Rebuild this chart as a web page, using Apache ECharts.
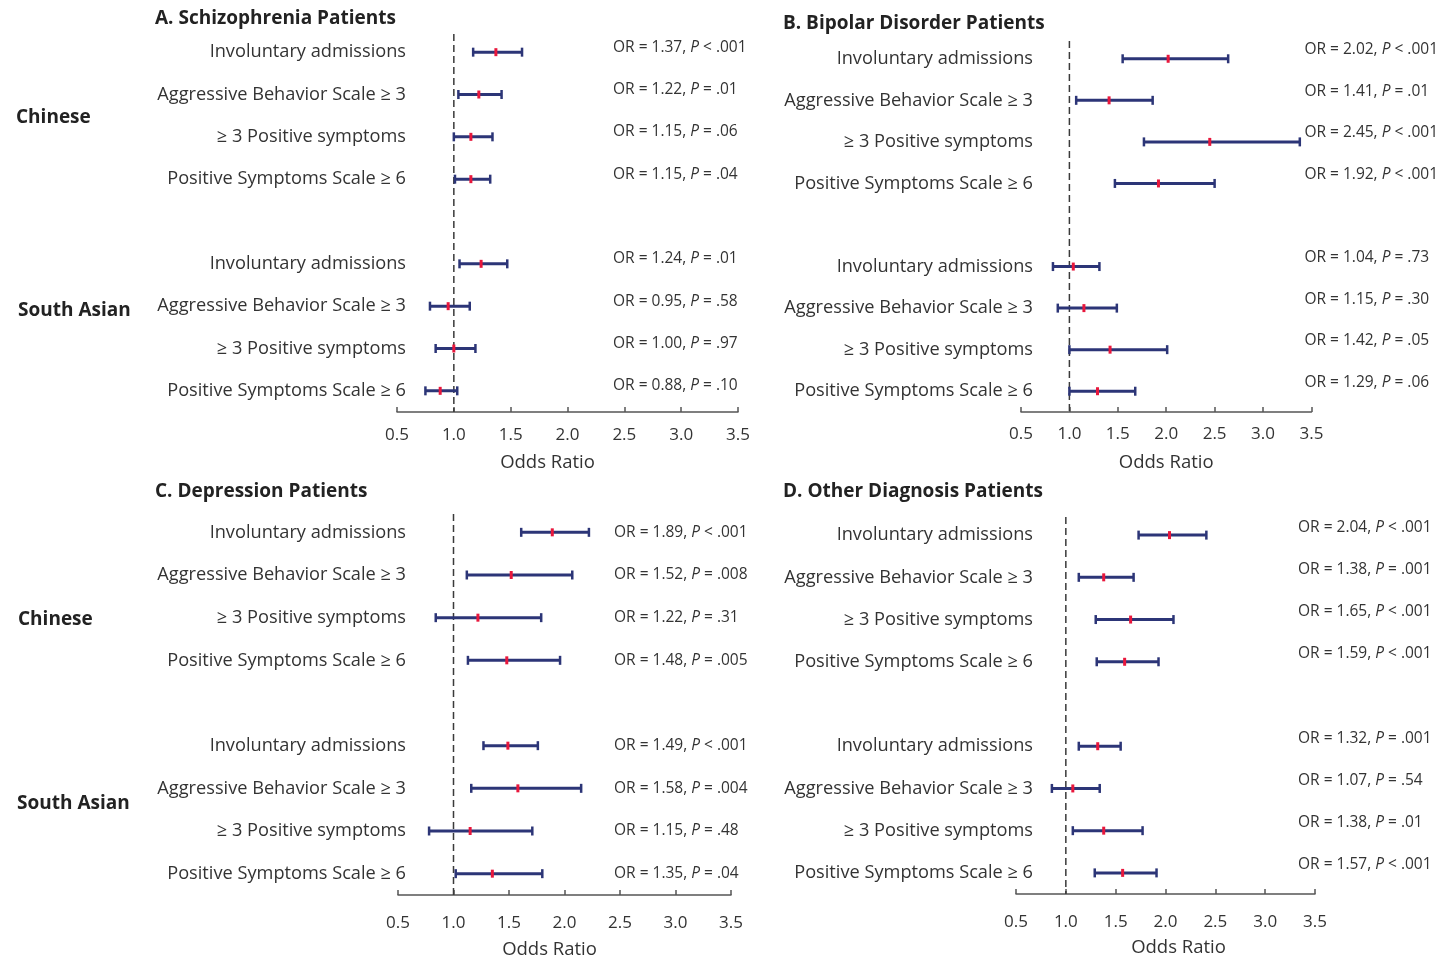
<!DOCTYPE html>
<html>
<head>
<meta charset="utf-8">
<title>Odds ratios by diagnosis</title>
<script src="https://cdn.jsdelivr.net/npm/echarts@6.0.0/dist/echarts.min.js"></script>
<style>
  html, body { margin: 0; padding: 0; background: #fff; }
  #chart { width: 1441px; height: 960px; }
</style>
</head>
<body>
<div id="chart"></div>
<script>
// outcome rows (same 4 rows for Chinese and South Asian)
var rowLabels = ["Involuntary admissions", "Aggressive Behavior Scale \u2265 3", "\u2265 3 Positive symptoms", "Positive Symptoms Scale \u2265 6"];
var groupLabels = ["Chinese", "South Asian"];
var xTicks = [0.5, 1.0, 1.5, 2.0, 2.5, 3.0, 3.5];

// A. Schizophrenia
var aOR = [1.37, 1.22, 1.15, 1.15, 1.24, 0.95, 1.00, 0.88];
var aLo = [1.17, 1.04, 1.00, 1.01, 1.05, 0.79, 0.84, 0.75];
var aHi = [1.60, 1.42, 1.34, 1.32, 1.47, 1.14, 1.19, 1.03];
var aP = ["< .001", "= .01", "= .06", "= .04", "= .01", "= .58", "= .97", "= .10"];

// B. Bipolar disorder
var bOR = [2.02, 1.41, 2.45, 1.92, 1.04, 1.15, 1.42, 1.29];
var bLo = [1.55, 1.07, 1.77, 1.47, 0.83, 0.88, 1.00, 1.00];
var bHi = [2.64, 1.86, 3.38, 2.50, 1.31, 1.49, 2.01, 1.68];
var bP = ["< .001", "= .01", "< .001", "< .001", "= .73", "= .30", "= .05", "= .06"];

// C. Depression
var cOR = [1.89, 1.52, 1.22, 1.48, 1.49, 1.58, 1.15, 1.35];
var cLo = [1.61, 1.12, 0.84, 1.13, 1.27, 1.16, 0.78, 1.02];
var cHi = [2.22, 2.07, 1.79, 1.96, 1.76, 2.15, 1.71, 1.80];
var cP = ["< .001", "= .008", "= .31", "= .005", "< .001", "= .004", "= .48", "= .04"];

// D. Other diagnosis
var dOR = [2.04, 1.38, 1.65, 1.59, 1.32, 1.07, 1.38, 1.57];
var dLo = [1.73, 1.13, 1.30, 1.31, 1.13, 0.86, 1.07, 1.29];
var dHi = [2.41, 1.68, 2.08, 1.93, 1.55, 1.34, 1.77, 1.91];
var dP = ["< .001", "= .001", "< .001", "< .001", "= .001", "= .54", "= .01", "< .001"];

var panelTitles = ["A. Schizophrenia Patients", "B. Bipolar Disorder Patients", "C. Depression Patients", "D. Other Diagnosis Patients"];
var refLine = 1; // OR = 1 reference

var FONT = "'Open Sans', Lato, sans-serif";
var NAVY = "#2c3577";
var RED = "#e8173c";
var TEXT = "#333";

// layout per panel (lm = label margin, ann* = OR text placement, tm/ng = tick margin / name gap, np = name padding)
var panels = [
  { or: aOR, lo: aLo, hi: aHi, p: aP, grid: { left: 397, width: 341, top: 31, height: 381 }, lm: -9, annOff: -125, annUp: 5, tm: 15, ng: 41, np: [0, 40, 0, 0] },
  { or: bOR, lo: bLo, hi: bHi, p: bP, grid: { left: 1021, width: 291, top: 38, height: 374 }, lm: -12, annOff: -7, annUp: 9, tm: 14, ng: 41, np: [0, 0, 0, 0] },
  { or: cOR, lo: cLo, hi: cHi, p: cP, grid: { left: 398, width: 333, top: 511, height: 384 }, lm: -8, annOff: -117, annUp: 0, tm: 20, ng: 45, np: [0, 30, 0, 0] },
  { or: dOR, lo: dLo, hi: dHi, p: dP, grid: { left: 1016, width: 299, top: 514, height: 380 }, lm: -17, annOff: -17, annUp: 8, tm: 20, ng: 44, np: [0, 0, 0, 26] }
];

// 4 rows, a blank gap row, 4 rows
var cats = rowLabels.concat([""], rowLabels);
function rowIndex(i) { return i < 4 ? i : i + 1; }

// CI bar with caps + red OR mark
function renderCI(params, api) {
  var y = api.value(3);
  var lo = api.coord([api.value(0), y]);
  var hi = api.coord([api.value(1), y]);
  var mid = api.coord([api.value(2), y]);
  var cap = 4.5;
  return {
    type: "group",
    children: [
      { type: "line", shape: { x1: lo[0], y1: lo[1], x2: hi[0], y2: hi[1] }, style: { stroke: NAVY, lineWidth: 3 } },
      { type: "line", shape: { x1: lo[0], y1: lo[1] - cap, x2: lo[0], y2: lo[1] + cap }, style: { stroke: NAVY, lineWidth: 2.5 } },
      { type: "line", shape: { x1: hi[0], y1: hi[1] - cap, x2: hi[0], y2: hi[1] + cap }, style: { stroke: NAVY, lineWidth: 2.5 } },
      { type: "rect", shape: { x: mid[0] - 1.5, y: mid[1] - 4, width: 3, height: 8 }, style: { fill: RED } }
    ]
  };
}

// dashed vertical line at OR = 1, full plot height
function renderRef(params, api) {
  var c = api.coord([api.value(0), api.value(1)]);
  var cs = params.coordSys;
  return {
    type: "line",
    shape: { x1: c[0], y1: cs.y + 3, x2: c[0], y2: cs.y + cs.height },
    style: { stroke: "#3a3a3a", lineWidth: 1.5, lineDash: [7, 4] }
  };
}

var grids = [], xAxes = [], yAxes = [], series = [];
panels.forEach(function (pn, k) {
  grids.push(pn.grid);
  xAxes.push({
    type: "value", gridIndex: k, min: 0.5, max: 3.5, interval: 0.5,
    name: "Odds Ratio", nameLocation: "middle", nameGap: pn.ng,
    nameTextStyle: { fontFamily: FONT, fontSize: 18.5, color: TEXT, padding: pn.np },
    axisLine: { show: true, lineStyle: { color: "#555", width: 1.5 } },
    axisTick: { show: true, inside: true, length: 5, lineStyle: { color: "#555", width: 1.5 } },
    axisLabel: { fontFamily: FONT, fontSize: 17, color: TEXT, margin: pn.tm,
      formatter: function (v) { return v.toFixed(1); } },
    splitLine: { show: false }
  });
  // row labels on the left
  yAxes.push({
    type: "category", gridIndex: k, data: cats, inverse: true,
    axisLine: { show: false }, axisTick: { show: false },
    axisLabel: { interval: 0, margin: pn.lm, fontFamily: FONT, fontSize: 18.2, color: TEXT }
  });
  // OR / P annotations on the right
  yAxes.push({
    type: "category", gridIndex: k, data: cats, inverse: true, position: "right", offset: pn.annOff,
    axisLine: { show: false }, axisTick: { show: false },
    axisLabel: {
      interval: 0, margin: 0, align: "left", fontFamily: FONT, fontSize: 15.5, color: TEXT,
      padding: [0, 0, pn.annUp * 2, 0],
      formatter: function (v, idx) {
        if (idx === 4) return "";
        var i = idx < 4 ? idx : idx - 1;
        return "OR = " + pn.or[i].toFixed(2) + ", {i|P} " + pn.p[i];
      },
      rich: { i: { fontStyle: "italic", fontFamily: FONT, fontSize: 15.5, color: TEXT } }
    }
  });
  series.push({
    type: "custom", xAxisIndex: k, yAxisIndex: k * 2,
    renderItem: renderRef,
    encode: { x: 0, y: 1 },
    data: [[refLine, 0]], silent: true, z: 2
  });
  var data = pn.or.map(function (v, i) { return [pn.lo[i], pn.hi[i], v, rowIndex(i)]; });
  series.push({
    type: "custom", xAxisIndex: k, yAxisIndex: k * 2,
    renderItem: renderCI,
    encode: { x: [0, 1, 2], y: 3 },
    data: data, silent: true, z: 3
  });
});

// panel titles and group labels
var graphics = [];
var titlePos = [[155, 19], [783, 24], [155, 492], [783, 492]];
titlePos.forEach(function (p, k) {
  graphics.push({ type: "text", x: p[0], y: p[1],
    style: { text: panelTitles[k], font: "bold 19px " + FONT, fill: "#222", verticalAlign: "middle" } });
});
var groupPos = [[16, 118], [18, 311], [18, 620], [17, 804]];
groupPos.forEach(function (p, k) {
  graphics.push({ type: "text", x: p[0], y: p[1],
    style: { text: groupLabels[k % 2], font: "bold 19px " + FONT, fill: "#222", verticalAlign: "middle" } });
});

var myChart = echarts.init(document.getElementById("chart"), null, { renderer: "canvas" });
myChart.setOption({
  animation: false,
  backgroundColor: "#fff",
  grid: grids,
  xAxis: xAxes,
  yAxis: yAxes,
  series: series,
  graphic: graphics
});
window.addEventListener("resize", function () { myChart.resize(); });
</script>
</body>
</html>
